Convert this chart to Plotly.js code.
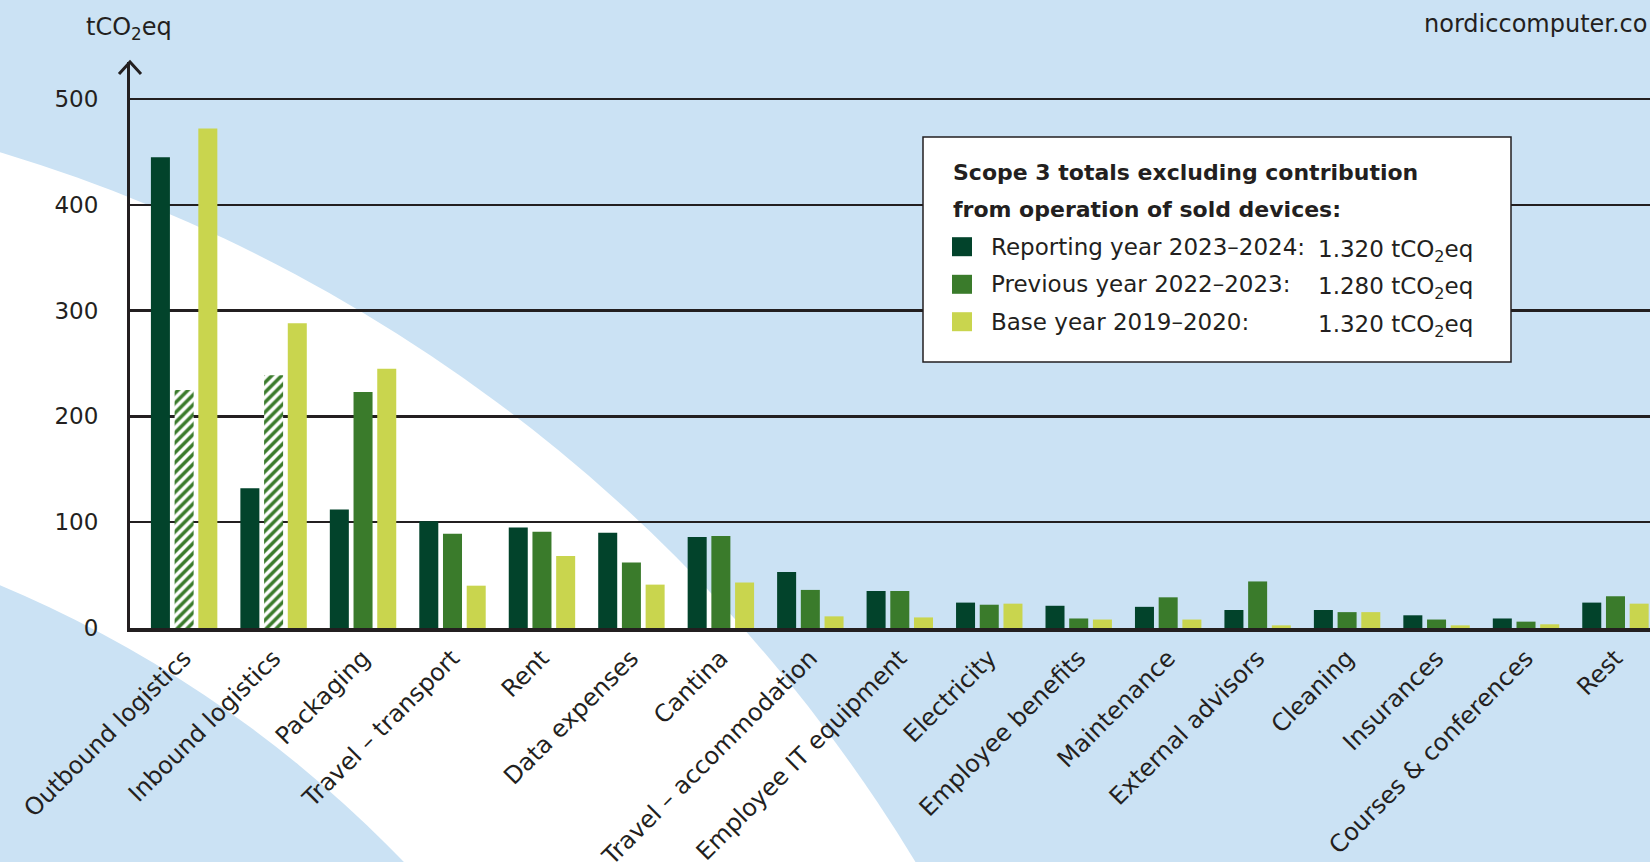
<!DOCTYPE html>
<html>
<head>
<meta charset="utf-8">
<script src="https://cdn.plot.ly/plotly-3.0.1.min.js"></script>
<style>
html,body{margin:0;padding:0;background:#cbe2f4;}
#chart{width:1650px;height:862px;}
</style>
</head>
<body>
<div id="chart"></div>
<script>
// ---- data ----
const categories = ["Outbound logistics","Inbound logistics","Packaging","Travel – transport","Rent","Data expenses","Cantina","Travel – accommodation","Employee IT equipment","Electricity","Employee benefits","Maintenance","External advisors","Cleaning","Insurances","Courses & conferences","Rest"];
const reporting2324 = [445,132,112,101,95,90,86,53,35,24,21,20,17,17,12,9,24];
const previous2223  = [225,239,223,89,91,62,87,36,35,22,9,29,44,15,8,6,30];
const base1920      = [472,288,245,40,68,41,43,11,10,23,8,8,2.5,15,2.5,3.5,23];
const previousHatched = [true,true,false,false,false,false,false,false,false,false,false,false,false,false,false,false,false];
const seriesNames = ["Reporting year 2023–2024:","Previous year 2022–2023:","Base year 2019–2020:"];
const seriesTotals = ["1.320 tCO<sub>2</sub>eq","1.280 tCO<sub>2</sub>eq","1.320 tCO<sub>2</sub>eq"];
const yTicks = [0,100,200,300,400,500];
const legendTitle = ["Scope 3 totals excluding contribution","from operation of sold devices:"];

// ---- style ----
const C_DARK = "#02432b", C_MID = "#3a7b2b", C_LIGHT = "#c9d54e";
const INK = "#231f20", BLUE = "#cbe2f4";
const FONT = "DejaVu Sans";

const W = 1650, H = 862, L = 130, R = 0, T = 62, B = 234;
const PW = W - L - R, PH = H - T - B;
const px = x => (x - L) / PW;
const py = y => (H - B - y) / PH;
const PX_PER_UNIT = 1.058;

const prevSolid = previous2223.map((v,i) => previousHatched[i] ? null : v);
const prevHatch = previous2223.map((v,i) => previousHatched[i] ? v : null);

const traces = [
  {type:"bar", x:categories, y:reporting2324, name:seriesNames[0], offsetgroup:"a", marker:{color:C_DARK}},
  {type:"bar", x:categories, y:prevSolid, name:seriesNames[1], offsetgroup:"b", marker:{color:C_MID}},
  {type:"bar", x:categories, y:prevHatch, name:seriesNames[1] + " (hatched)", offsetgroup:"b",
   marker:{color:C_MID, line:{width:0},
           pattern:{shape:"/", fillmode:"replace", bgcolor:"#ffffff", fgcolor:C_MID, fgopacity:1, size:7, solidity:0.5}}},
  {type:"bar", x:categories, y:base1920, name:seriesNames[2], offsetgroup:"c", marker:{color:C_LIGHT}}
];

// background ring (white band)
const ringCx = -468, ringCy = 1701, rOuter = 1618, rInner = 1210;
const shapes = [
  {type:"circle", xref:"paper", yref:"paper", layer:"below",
   x0:px(ringCx-rOuter), x1:px(ringCx+rOuter), y0:py(ringCy+rOuter), y1:py(ringCy-rOuter),
   fillcolor:"#ffffff", line:{width:0}},
  {type:"circle", xref:"paper", yref:"paper", layer:"below",
   x0:px(ringCx-rInner), x1:px(ringCx+rInner), y0:py(ringCy+rInner), y1:py(ringCy-rInner),
   fillcolor:BLUE, line:{width:0}},
  // axis arrow head
  {type:"path", xref:"paper", yref:"paper", layer:"above",
   path:`M ${px(119)} ${py(74)} L ${px(130)} ${py(62)} L ${px(141)} ${py(74)}`,
   line:{color:INK, width:3}},
  // legend box
  {type:"rect", xref:"paper", yref:"paper", layer:"above",
   x0:px(923), x1:px(1511), y0:py(362), y1:py(137),
   fillcolor:"#ffffff", line:{color:INK, width:1.5}}
];
const legendColors = [C_DARK, C_MID, C_LIGHT];
const rowY = [246.7, 284.3, 321.7];
legendColors.forEach((c,i) => {
  shapes.push({type:"rect", xref:"paper", yref:"paper", layer:"above",
    x0:px(952), x1:px(972), y0:py(rowY[i]+9.5), y1:py(rowY[i]-9.5),
    fillcolor:c, line:{width:0}});
});

const annotations = [
  {text:"tCO<sub>2</sub>eq", xref:"paper", yref:"paper", x:px(84), y:py(28), xanchor:"left", yanchor:"middle",
   showarrow:false, font:{family:FONT, size:24, color:INK}},
  {text:"nordiccomputer.co", xref:"paper", yref:"paper", x:1, y:py(24), xanchor:"right", yanchor:"middle",
   showarrow:false, font:{family:FONT, size:24, color:INK}},
  {text:legendTitle[0], xref:"paper", yref:"paper", x:px(951), y:py(172.7), xanchor:"left", yanchor:"middle",
   showarrow:false, font:{family:FONT, size:22, color:INK, weight:"bold"}},
  {text:legendTitle[1], xref:"paper", yref:"paper", x:px(951), y:py(210), xanchor:"left", yanchor:"middle",
   showarrow:false, font:{family:FONT, size:22, color:INK, weight:"bold"}}
];
seriesNames.forEach((n,i) => {
  annotations.push({text:n, xref:"paper", yref:"paper", x:px(989), y:py(rowY[i]), xanchor:"left", yanchor:"middle",
    showarrow:false, font:{family:FONT, size:23, color:INK}});
  annotations.push({text:seriesTotals[i], xref:"paper", yref:"paper", x:px(1316), y:py(rowY[i]+4), xanchor:"left", yanchor:"middle",
    showarrow:false, font:{family:FONT, size:23, color:INK}});
});

const layout = {
  width:W, height:H,
  margin:{l:L, r:R, t:T, b:B, pad:0},
  paper_bgcolor:BLUE, plot_bgcolor:"rgba(0,0,0,0)",
  showlegend:false,
  barmode:"group", bargap:0.205, bargroupgap:0.198,
  font:{family:FONT, color:INK},
  xaxis:{type:"category", range:[-0.605, 16.386], tickangle:-45,
         tickfont:{family:FONT, size:24, color:INK},
         showline:true, linecolor:INK, linewidth:3.5,
         ticks:"outside", ticklen:3, tickcolor:"rgba(0,0,0,0)",
         showgrid:false, zeroline:false, fixedrange:true},
  yaxis:{range:[0, PH/PX_PER_UNIT], tickvals:yTicks,
         tickfont:{family:FONT, size:23, color:INK},
         showline:true, linecolor:INK, linewidth:3,
         ticks:"outside", ticklen:24, tickcolor:"rgba(0,0,0,0)",
         showgrid:true, gridcolor:INK, gridwidth:2.5, zeroline:false, fixedrange:true},
  shapes:shapes,
  annotations:annotations
};

Plotly.newPlot("chart", traces, layout, {staticPlot:true, displayModeBar:false});
</script>
</body>
</html>
